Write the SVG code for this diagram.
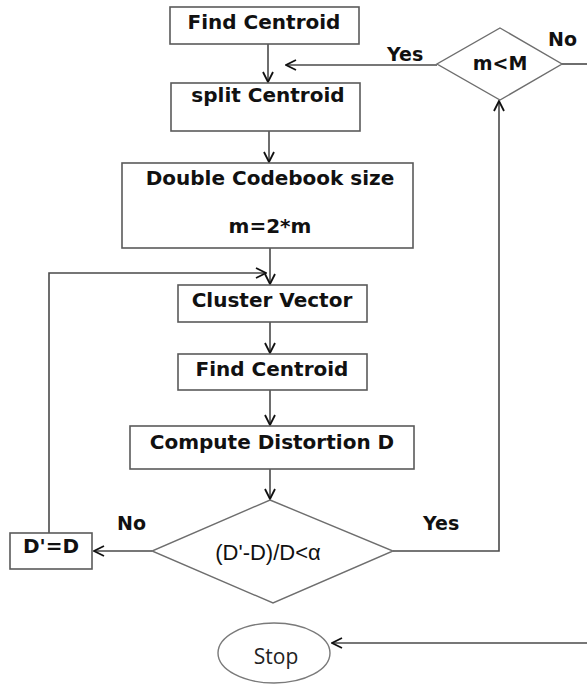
<svg xmlns="http://www.w3.org/2000/svg" width="587" height="685" viewBox="0 0 587 685">
  <style>
    .box { fill: #ffffff; stroke: #5a5a5a; stroke-width: 1.6; }
    .dia { fill: #ffffff; stroke: #6e6e6e; stroke-width: 1.4; }
    .oval { fill: #ffffff; stroke: #7a7a7a; stroke-width: 1.4; }
    .lbl { font-family: "DejaVu Sans", Verdana, sans-serif; font-weight: bold; font-size: 20px; fill: #111111; text-anchor: middle; }
    .cond { font-family: "Liberation Sans", Arial, sans-serif; font-size: 22px; fill: #111111; text-anchor: middle; }
    .stop { font-family: "Open Sans", "Noto Sans", sans-serif; font-size: 21px; fill: #222222; text-anchor: middle; }
    .edge { fill: none; stroke: #4a4a4a; stroke-width: 1.6; }
    .tag { font-family: "DejaVu Sans", Verdana, sans-serif; font-weight: bold; font-size: 19px; fill: #111111; }
  </style>
  <defs>
    <marker id="arrow" viewBox="0 0 12 12" refX="11" refY="6" markerWidth="12" markerHeight="12" markerUnits="userSpaceOnUse" orient="auto">
      <path d="M1,1 L11,6 L1,11" fill="none" stroke="#111111" stroke-width="1.8"/>
    </marker>
  </defs>

  <!-- connectors -->
  <g id="connectors">
    <line class="edge" x1="268" y1="44" x2="268" y2="82" marker-end="url(#arrow)"/>
    <line class="edge" x1="437" y1="65" x2="286" y2="65" marker-end="url(#arrow)"/>
    <line class="edge" x1="269" y1="131" x2="269" y2="162" marker-end="url(#arrow)"/>
    <line class="edge" x1="270" y1="248" x2="270" y2="284" marker-end="url(#arrow)"/>
    <polyline class="edge" points="49,533 49,273 266,273" marker-end="url(#arrow)"/>
    <line class="edge" x1="270" y1="322" x2="270" y2="353" marker-end="url(#arrow)"/>
    <line class="edge" x1="270" y1="390" x2="270" y2="425" marker-end="url(#arrow)"/>
    <line class="edge" x1="270" y1="469" x2="270" y2="499" marker-end="url(#arrow)"/>
    <line class="edge" x1="152" y1="551" x2="94" y2="551" marker-end="url(#arrow)"/>
    <polyline class="edge" points="393,551 499,551 499,101" marker-end="url(#arrow)"/>
    <line class="edge" x1="562" y1="64" x2="587" y2="64"/>
    <line class="edge" x1="587" y1="643" x2="332" y2="643" marker-end="url(#arrow)"/>
    <text class="tag" x="387" y="61">Yes</text>
    <text class="tag" x="548" y="46">No</text>
    <text class="tag" x="117" y="530">No</text>
    <text class="tag" x="423" y="530">Yes</text>
  </g>

  <g id="find-centroid-1">
    <rect class="box" x="170" y="7" width="189" height="37"/>
    <text class="lbl" x="264" y="29">Find Centroid</text>
  </g>

  <g id="split-centroid">
    <rect class="box" x="171" y="83" width="189" height="48"/>
    <text class="lbl" x="268" y="102">split Centroid</text>
  </g>

  <g id="double-codebook">
    <rect class="box" x="122" y="163" width="291" height="85"/>
    <text class="lbl" x="270" y="185">Double Codebook size</text>
    <text class="lbl" x="270" y="233">m=2*m</text>
  </g>

  <g id="cluster-vector">
    <rect class="box" x="178" y="285" width="189" height="37"/>
    <text class="lbl" x="272" y="307">Cluster Vector</text>
  </g>

  <g id="find-centroid-2">
    <rect class="box" x="178" y="354" width="189" height="36"/>
    <text class="lbl" x="272" y="376">Find Centroid</text>
  </g>

  <g id="compute-distortion">
    <rect class="box" x="130" y="426" width="284" height="43"/>
    <text class="lbl" x="272" y="449">Compute Distortion D</text>
  </g>

  <g id="distortion-test">
    <polygon class="dia" points="270,500 393,551 273,603 152,551"/>
    <text class="cond" x="268" y="560">(D'-D)/D&lt;α</text>
  </g>

  <g id="update-distortion">
    <rect class="box" x="10" y="533" width="82" height="36"/>
    <text class="lbl" x="51" y="553">D'=D</text>
  </g>

  <g id="size-test">
    <polygon class="dia" points="500,28 562,64 500,100 437,64"/>
    <text class="lbl" x="500" y="70" style="font-size:19px">m&lt;M</text>
  </g>

  <g id="stop">
    <ellipse class="oval" cx="274" cy="653" rx="56" ry="30"/>
    <text class="stop" x="276" y="664">Stop</text>
  </g>
</svg>
